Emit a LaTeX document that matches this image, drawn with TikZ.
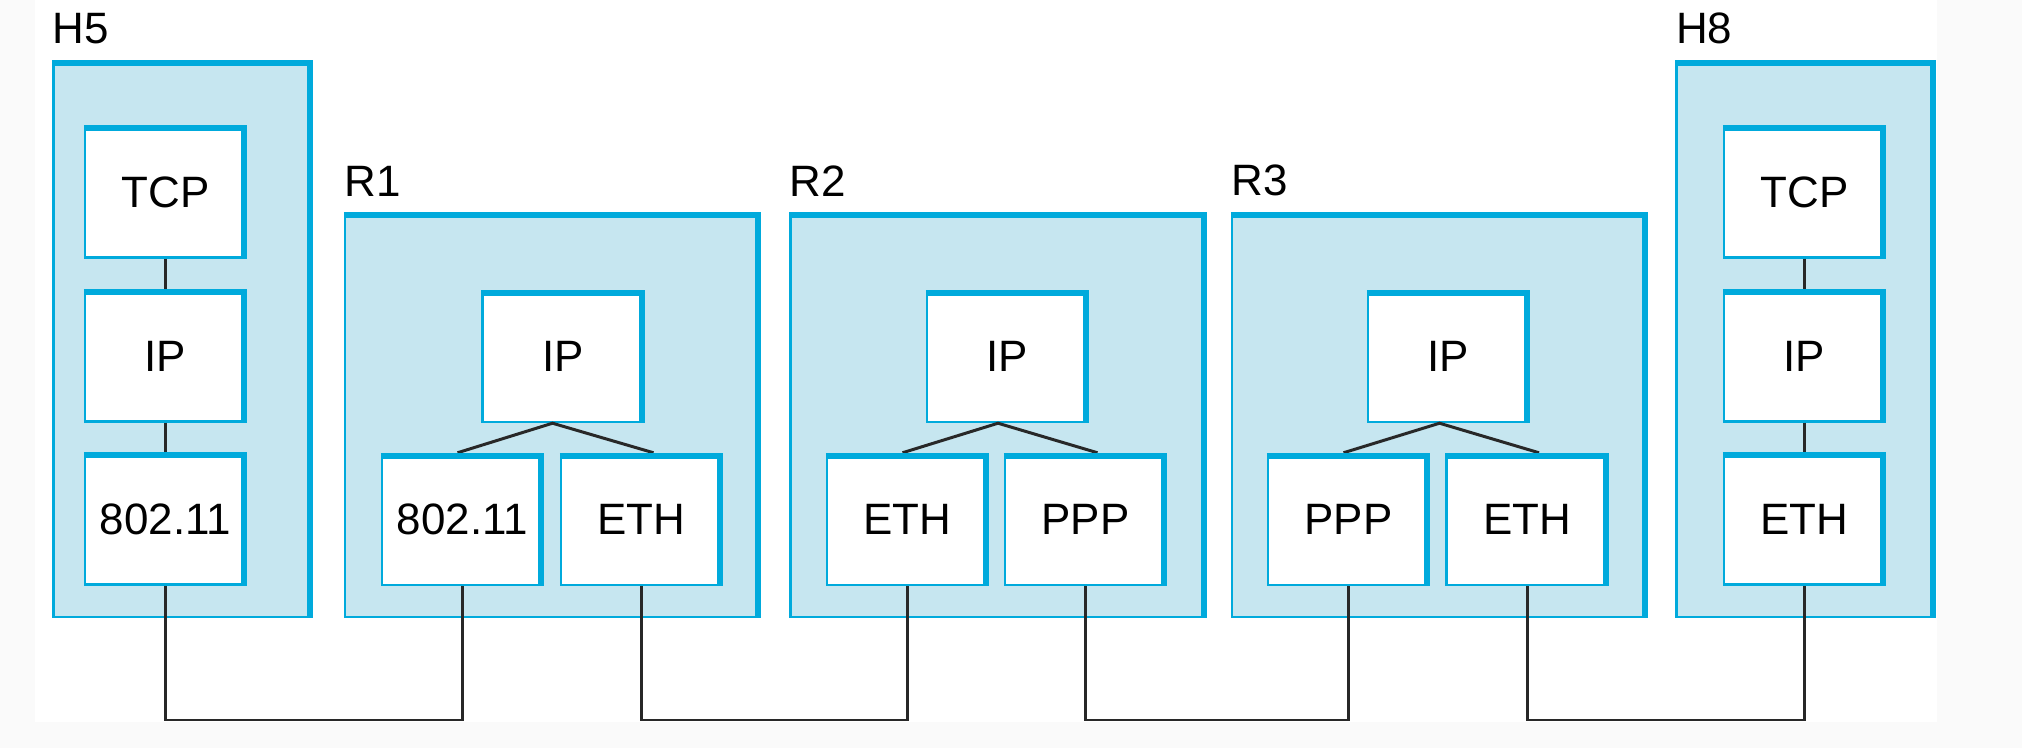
\documentclass[tikz,border=0pt]{standalone}
\usepackage{fontspec}
\setmainfont{Liberation Sans}
\definecolor{netcyan}{RGB}{0,170,220}
\definecolor{netpale}{RGB}{198,230,240}
\definecolor{wiregray}{RGB}{40,40,40}
\definecolor{pagegray}{RGB}{250,250,250}

\begin{document}
\begin{tikzpicture}[x=0.1mm,y=-0.1mm,line join=miter,font=\fontsize{12.5}{15}\selectfont,
  frame/.style={rectangle,draw=netcyan,fill=netpale,line width=0.7pt,inner sep=0pt},
  hostframe/.style={frame,minimum width=25.8mm,minimum height=55.6mm},
  routerframe/.style={frame,minimum width=41.5mm,minimum height=40.4mm},
  layer/.style={rectangle,draw=netcyan,fill=white,line width=0.7pt,inner sep=0pt,minimum width=16.1mm,minimum height=13.1mm},
  tag/.style={anchor=south west,inner sep=0pt,yshift=1.5mm},
  rim/.style={netcyan,line width=1.7pt},
  wire/.style={wiregray,line width=0.85pt}]
\useasboundingbox (0,0) rectangle (2022,748);
\fill[pagegray] (0,0) rectangle (2022,748);
\fill[white] (35,0) rectangle (1937,722);

\node[hostframe,label={[tag]north west:H5}] (h5) at (182.5,339) {};
\node[routerframe,label={[tag]north west:R1}] (r1) at (552.5,415) {};
\node[routerframe,label={[tag]north west:R2}] (r2) at (998,415) {};
\node[routerframe,label={[tag]north west:R3}] (r3) at (1439.5,415) {};
\node[hostframe,label={[tag]north west:H8}] (h8) at (1805.5,339) {};

\node[layer] (h5t) at (165.5,192) {TCP};
\node[layer] (h5i) at (165.5,356) {IP};
\node[layer] (h5l) at (165.5,519) {802.11};
\node[layer] (r1i) at (563,356.5) {IP};
\node[layer] (r1a) at (462.5,519.5) {802.11};
\node[layer] (r1b) at (641.5,519.5) {ETH};
\node[layer] (r2i) at (1007.5,356.5) {IP};
\node[layer] (r2a) at (907.5,519.5) {ETH};
\node[layer] (r2b) at (1085.5,519.5) {PPP};
\node[layer] (r3i) at (1448.5,356.5) {IP};
\node[layer] (r3a) at (1348.5,519.5) {PPP};
\node[layer] (r3b) at (1527,519.5) {ETH};
\node[layer] (h8t) at (1804.5,192) {TCP};
\node[layer] (h8i) at (1804.5,356) {IP};
\node[layer] (h8l) at (1804.5,519) {ETH};

\draw[wire] (h5t) -- (h5i) -- (h5l);
\draw[wire] (h8t) -- (h8i) -- (h8l);
\foreach \r in {r1,r2,r3}{
  \draw[wire] ([shift={(-5,0)}]\r a.north) -- (\r i.south -| \r) -- ([shift={(12,0)}]\r b.north);
}

\coordinate (bus) at (0,720);
\draw[wire] (h5l.south) -- (h5l.south |- bus) -| (r1a.south);
\draw[wire] (r1b.south) -- (r1b.south |- bus) -| (r2a.south);
\draw[wire] (r2b.south) -- (r2b.south |- bus) -| (r3a.south);
\draw[wire] (r3b.south) -- (r3b.south |- bus) -| (h8l.south);

\foreach \n in {h5,r1,r2,r3,h8,h5t,h5i,h5l,r1i,r1a,r1b,r2i,r2a,r2b,r3i,r3a,r3b,h8t,h8i,h8l}{
  \draw[rim] ([shift={(0,3)}]\n.north west) -- ([shift={(-3,3)}]\n.north east) -- ([shift={(-3,0)}]\n.south east);
}
\end{tikzpicture}
\end{document}
